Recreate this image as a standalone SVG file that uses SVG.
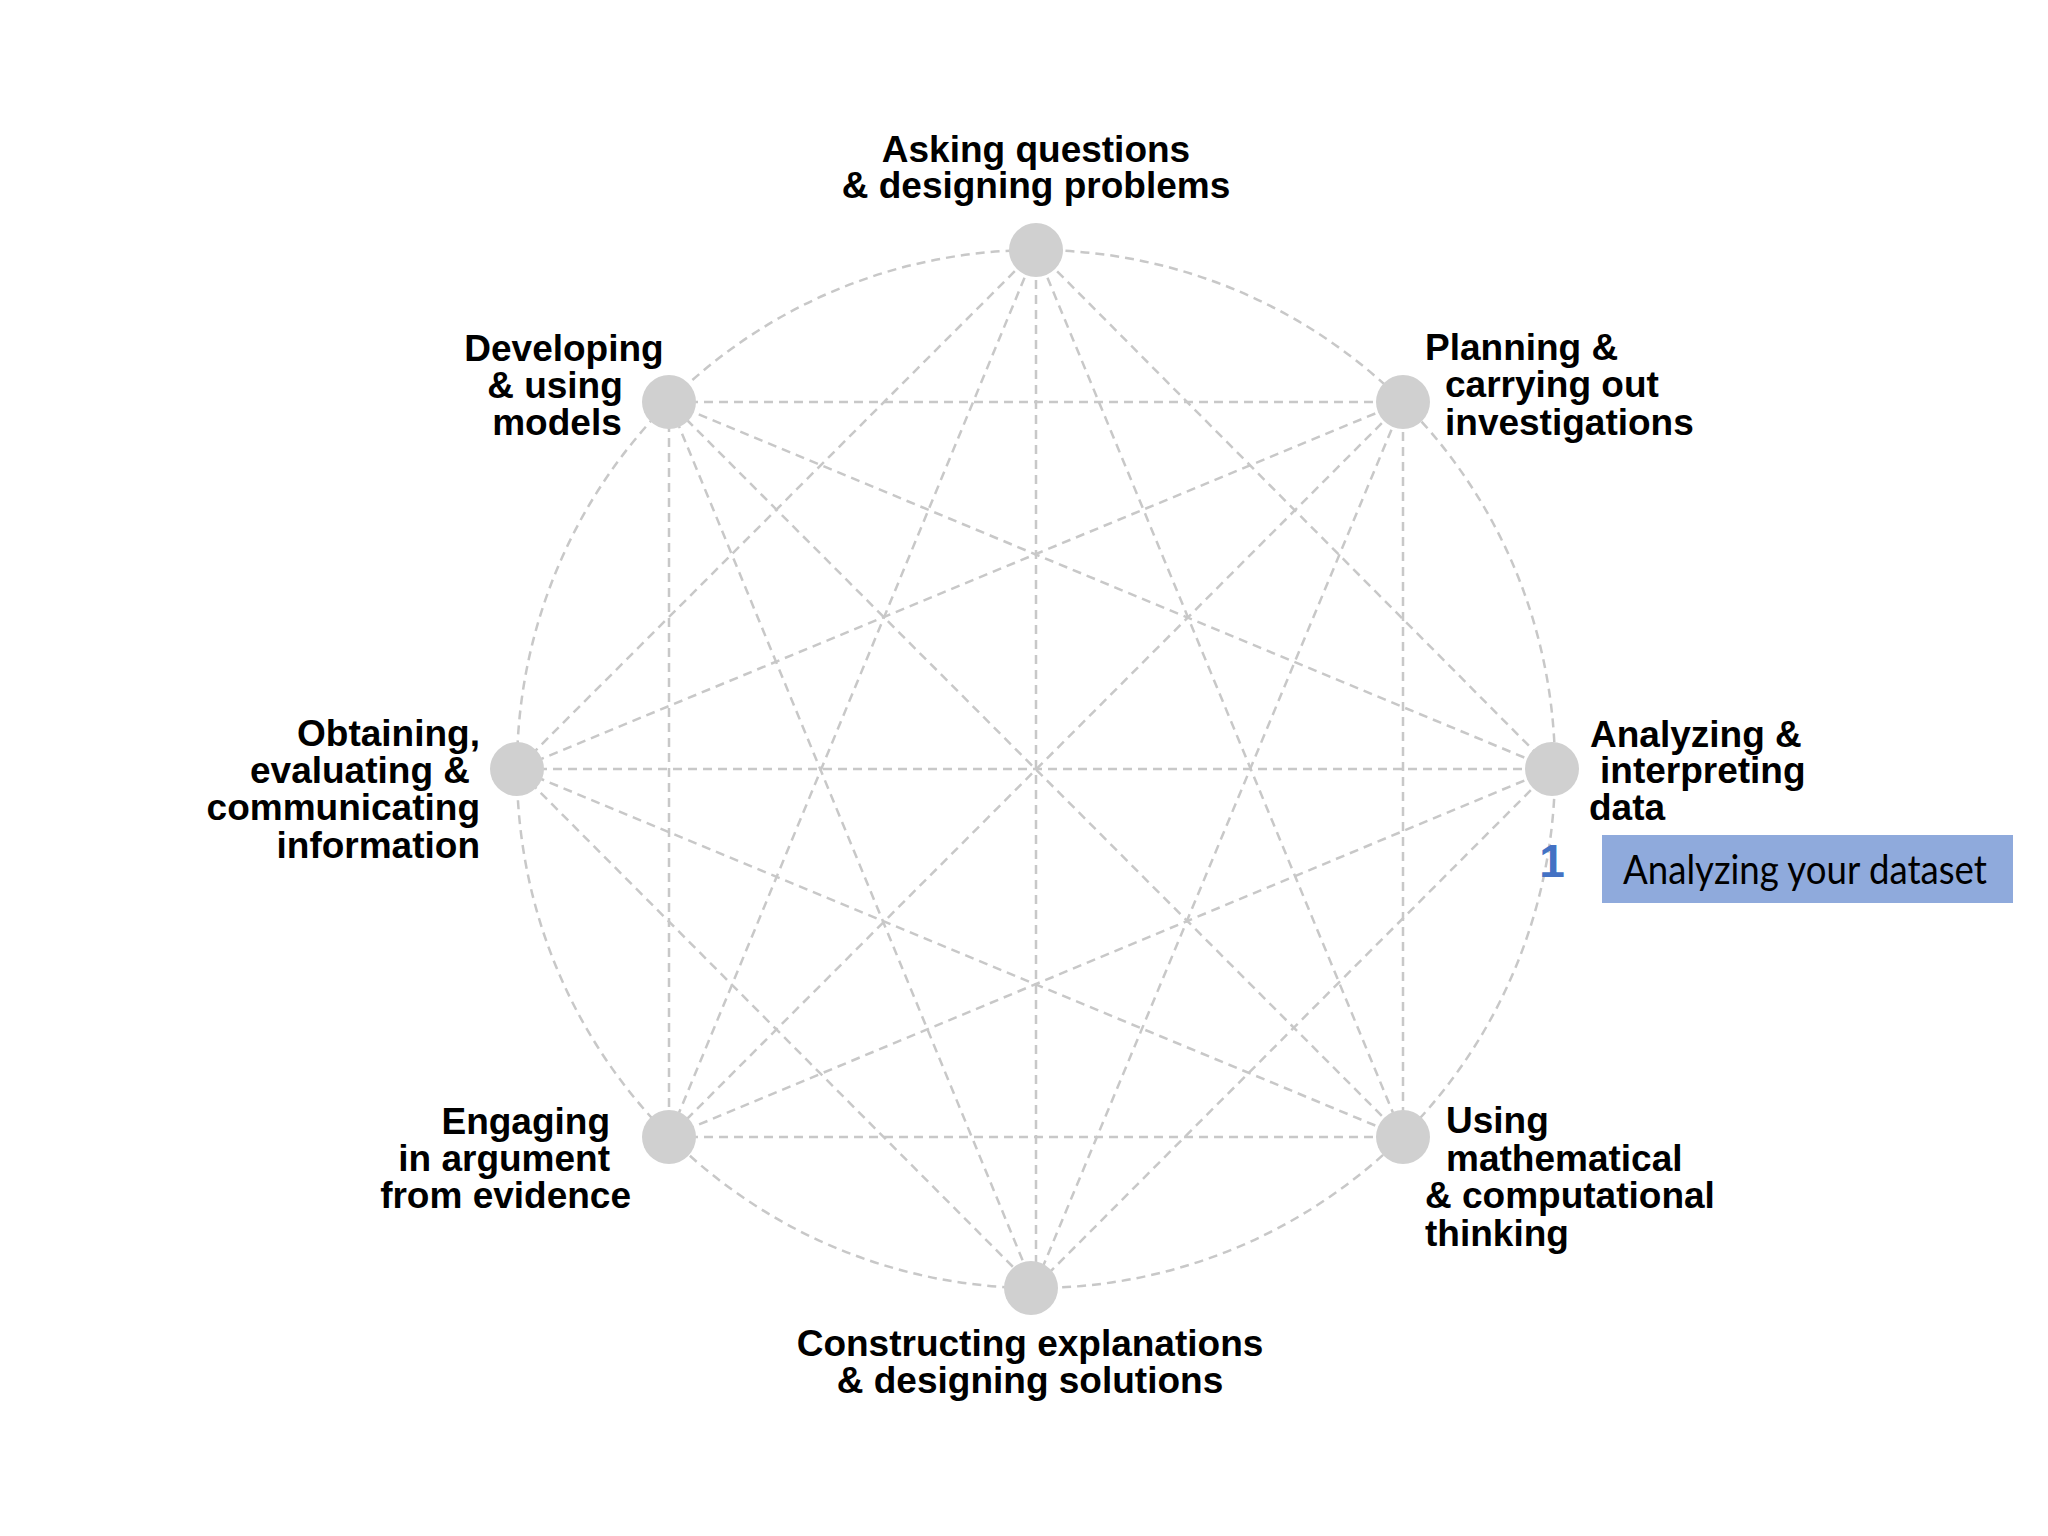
<svg xmlns="http://www.w3.org/2000/svg" width="2048" height="1536" viewBox="0 0 2048 1536">
<style>
.lbl{font-family:"Liberation Sans",Arial,sans-serif;font-weight:bold;font-size:37px;fill:#000}
.c{stroke:#c8c8c8;stroke-width:2.5;stroke-dasharray:9 6;fill:none}
.n{fill:#d0d0d0}
</style>
<rect width="2048" height="1536" fill="#fff"/>
<g id="connectors">
<circle class="c" cx="1036" cy="769" r="519"/>
<line class="c" x1="1036" y1="250" x2="1552" y2="769"/>
<line class="c" x1="1036" y1="250" x2="1403" y2="1137"/>
<line class="c" x1="1036" y1="250" x2="1036" y2="1288"/>
<line class="c" x1="1036" y1="250" x2="669" y2="1137"/>
<line class="c" x1="1036" y1="250" x2="517" y2="769"/>
<line class="c" x1="1403" y1="402" x2="1403" y2="1137"/>
<line class="c" x1="1403" y1="402" x2="1034" y2="1288"/>
<line class="c" x1="1403" y1="402" x2="669" y2="1137"/>
<line class="c" x1="1403" y1="402" x2="517" y2="769"/>
<line class="c" x1="1403" y1="402" x2="669" y2="402"/>
<line class="c" x1="1552" y1="769" x2="1034" y2="1288"/>
<line class="c" x1="1552" y1="769" x2="669" y2="1137"/>
<line class="c" x1="1552" y1="769" x2="517" y2="769"/>
<line class="c" x1="1552" y1="769" x2="669" y2="402"/>
<line class="c" x1="1403" y1="1137" x2="669" y2="1137"/>
<line class="c" x1="1403" y1="1137" x2="517" y2="769"/>
<line class="c" x1="1403" y1="1137" x2="669" y2="402"/>
<line class="c" x1="1034" y1="1288" x2="517" y2="769"/>
<line class="c" x1="1034" y1="1288" x2="669" y2="402"/>
<line class="c" x1="669" y1="1137" x2="669" y2="402"/>
</g>
<g id="node-asking">
<circle class="n" cx="1036" cy="250" r="27"/>
<text class="lbl" text-anchor="middle"><tspan x="1036" y="162">Asking questions</tspan><tspan x="1036" y="198">&amp; designing problems</tspan></text>
</g>
<g id="node-planning">
<circle class="n" cx="1403" cy="402" r="27"/>
<text class="lbl"><tspan x="1425" y="360">Planning &amp;</tspan><tspan x="1445" y="397">carrying out</tspan><tspan x="1445" y="435">investigations</tspan></text>
</g>
<g id="node-analyzing">
<circle class="n" cx="1552" cy="769" r="27"/>
<text class="lbl"><tspan x="1590" y="747">Analyzing &amp;</tspan><tspan x="1600" y="783">interpreting</tspan><tspan x="1589" y="820">data</tspan></text>
</g>
<g id="node-using">
<circle class="n" cx="1403" cy="1137" r="27"/>
<text class="lbl"><tspan x="1446" y="1133">Using</tspan><tspan x="1446" y="1171">mathematical</tspan><tspan x="1425" y="1208">&amp; computational</tspan><tspan x="1425" y="1246">thinking</tspan></text>
</g>
<g id="node-constructing">
<circle class="n" cx="1031" cy="1288" r="27"/>
<text class="lbl" text-anchor="middle"><tspan x="1030" y="1356">Constructing explanations</tspan><tspan x="1030" y="1393">&amp; designing solutions</tspan></text>
</g>
<g id="node-engaging">
<circle class="n" cx="669" cy="1137" r="27"/>
<text class="lbl" text-anchor="end"><tspan x="610" y="1134">Engaging</tspan><tspan x="610" y="1171">in argument</tspan><tspan x="631" y="1208">from evidence</tspan></text>
</g>
<g id="node-obtaining">
<circle class="n" cx="517" cy="769" r="27"/>
<text class="lbl" text-anchor="end"><tspan x="480" y="746">Obtaining,</tspan><tspan x="470" y="783">evaluating &amp;</tspan><tspan x="480" y="820">communicating</tspan><tspan x="480" y="858">information</tspan></text>
</g>
<g id="node-developing">
<circle class="n" cx="669" cy="402" r="27"/>
<text class="lbl" text-anchor="middle"><tspan x="564" y="361">Developing</tspan><tspan x="555" y="398">&amp; using</tspan><tspan x="557" y="435">models</tspan></text>
</g>
<g id="callout">
<text x="1552" y="877" text-anchor="middle" font-family="Liberation Sans, Arial, sans-serif" font-weight="bold" font-size="46" fill="#4472C4">1</text>
<rect x="1602" y="835" width="411" height="68" fill="#8FAADC"/>
<text x="1623" y="884" font-family="Lato, 'Open Sans', sans-serif" font-size="40" fill="#000" textLength="364" lengthAdjust="spacingAndGlyphs">Analyzing your dataset</text>
</g>
</svg>
